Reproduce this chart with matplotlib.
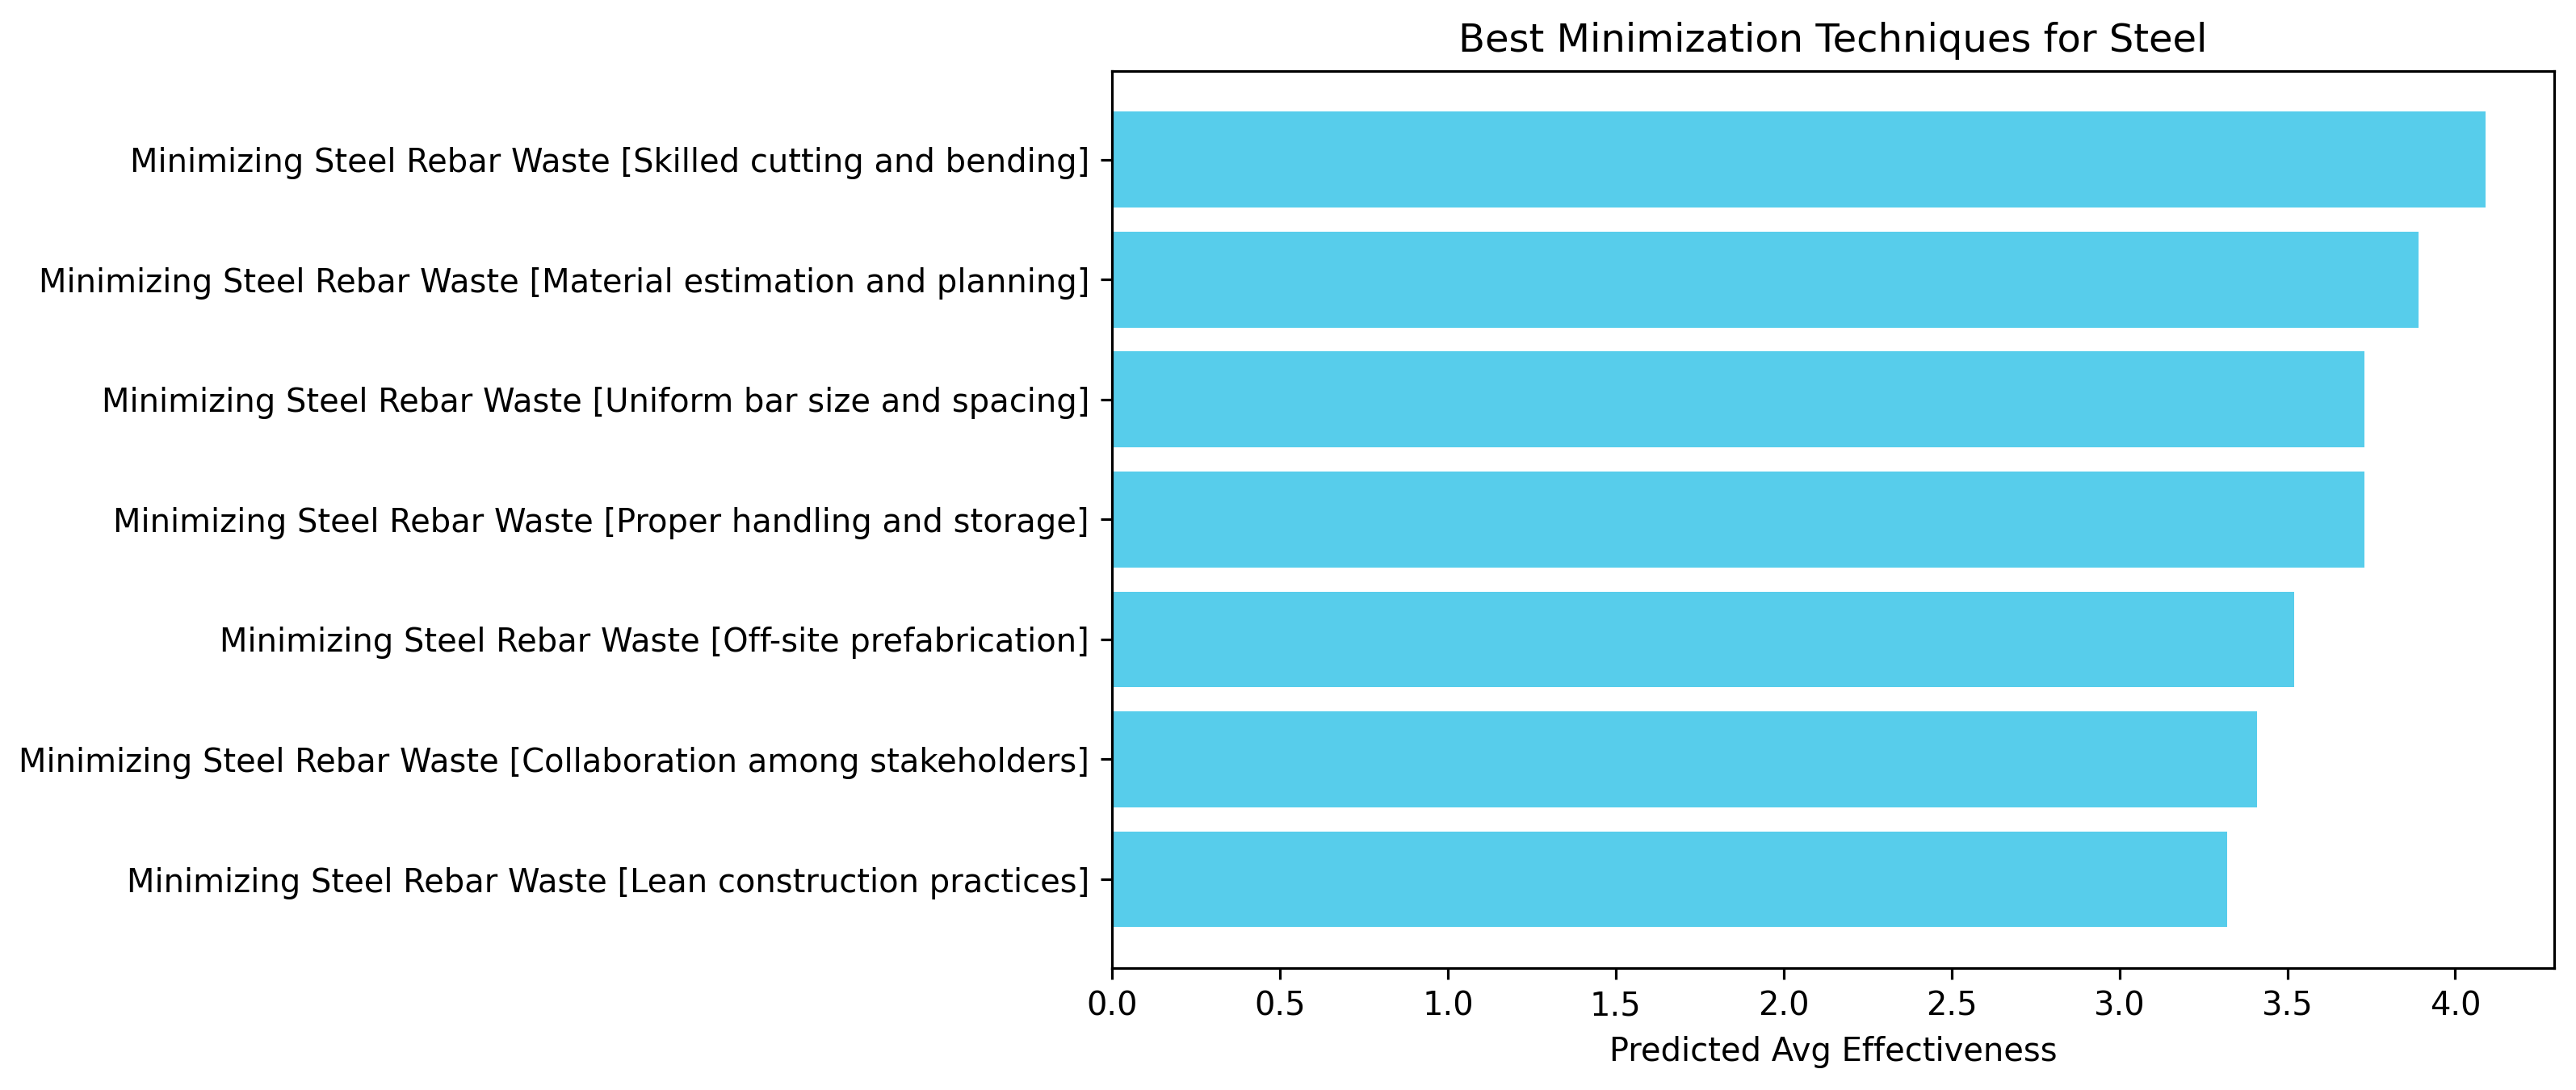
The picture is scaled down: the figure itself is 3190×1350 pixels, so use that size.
import matplotlib
matplotlib.use("Agg")
import matplotlib.pyplot as plt

techniques = [
    "Minimizing Steel Rebar Waste [Skilled cutting and bending]",
    "Minimizing Steel Rebar Waste [Material estimation and planning]",
    "Minimizing Steel Rebar Waste [Uniform bar size and spacing]",
    "Minimizing Steel Rebar Waste [Proper handling and storage]",
    "Minimizing Steel Rebar Waste [Off-site prefabrication]",
    "Minimizing Steel Rebar Waste [Collaboration among stakeholders]",
    "Minimizing Steel Rebar Waste [Lean construction practices]",
]
effectiveness = [4.09, 3.89, 3.73, 3.73, 3.52, 3.41, 3.32]

DPI = 288
fig = plt.figure(figsize=(3190 / DPI, 1350 / DPI), dpi=DPI)
ax = fig.add_axes([0.4317, 0.1119, 0.5598, 0.823])

# reverse so the first item is on top
ax.barh(techniques[::-1], effectiveness[::-1], color="#57CDEB")
ax.set_xlabel("Predicted Avg Effectiveness")
ax.set_title("Best Minimization Techniques for Steel")

fig.savefig("out.png", dpi=DPI)
